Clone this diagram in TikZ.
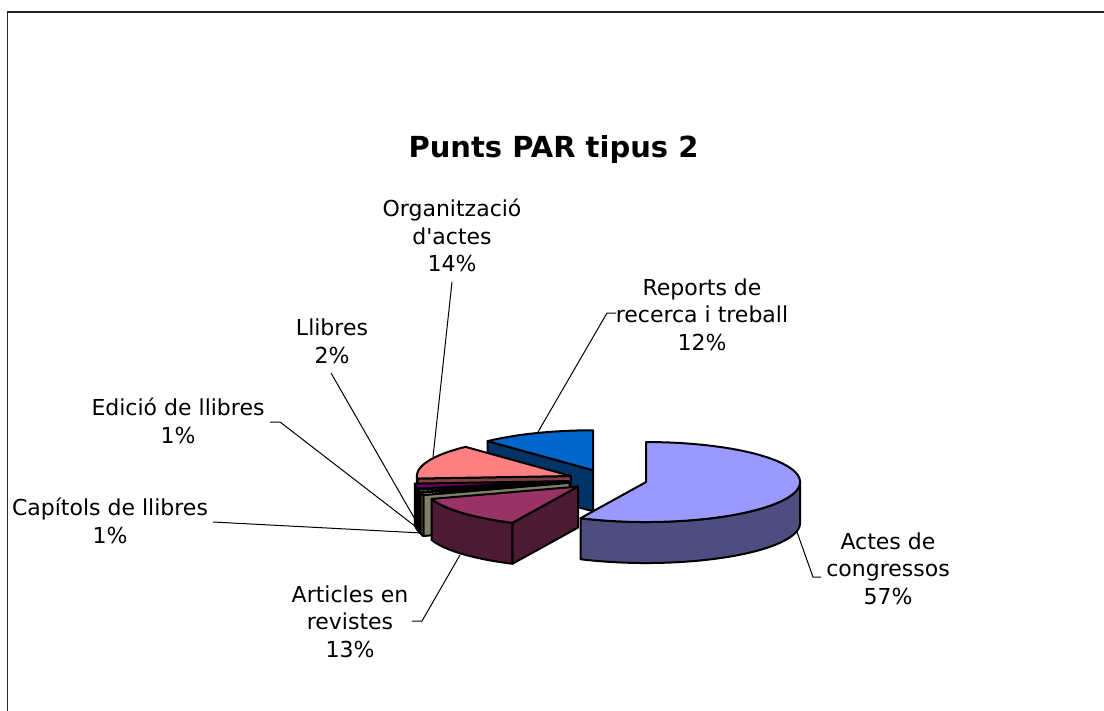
\documentclass[tikz,border=0pt]{standalone}
\usepackage{fontspec}
\setmainfont{DejaVu Sans}[Ligatures=TeXOff]
\def\pieOx{607.6}
\def\pieOy{479.8}
\def\pieRa{154}
\def\pieRb{40}
\def\pieDx{0.256}
\def\pieH{41}
\definecolor{actT}{HTML}{9999FF}\definecolor{actS}{HTML}{4D4D80}
\definecolor{artT}{HTML}{993366}\definecolor{artS}{HTML}{4D1A33}
\definecolor{capT}{HTML}{FFFFCC}\definecolor{capS}{HTML}{808066}
\definecolor{ediT}{HTML}{CCFFFF}\definecolor{ediS}{HTML}{668080}
\definecolor{llbT}{HTML}{660066}\definecolor{llbS}{HTML}{330033}
\definecolor{orgT}{HTML}{FF8080}\definecolor{orgS}{HTML}{804040}
\definecolor{repT}{HTML}{0066CC}\definecolor{repS}{HTML}{003366}
% #1 start angle, #2 end angle (clockwise from back), #3 top colour, #4 side colour, #5 draw cut face
\newcommand{\pieslice}[5]{%
  \pgfmathsetmacro{\pieM}{(#1+#2)/2}%
  \pgfmathsetmacro{\pieX}{\pieOx+\pieDx*\pieRa*sin(\pieM)}%
  \pgfmathsetmacro{\pieY}{\pieOy-\pieDx*\pieRb*cos(\pieM)}%
  \pgfmathsetmacro{\pieA}{max(#1,90)}%
  \pgfmathsetmacro{\pieB}{min(#2,270)}%
  \ifnum#5=1
    \filldraw[pie,fill=#4] (\pieX,\pieY) -- ({\pieX+\pieRa*sin(#1)},{\pieY-\pieRb*cos(#1)})
      -- ({\pieX+\pieRa*sin(#1)},{\pieY+\pieH-\pieRb*cos(#1)}) -- ({\pieX},{\pieY+\pieH}) -- cycle;
  \fi
  \ifdim\pieA pt<\pieB pt
    \filldraw[pie,fill=#4] plot[domain=\pieA:\pieB,samples=80,variable=\t] ({\pieX+\pieRa*sin(\t)},{\pieY-\pieRb*cos(\t)})
      -- plot[domain=\pieB:\pieA,samples=80,variable=\t] ({\pieX+\pieRa*sin(\t)},{\pieY+\pieH-\pieRb*cos(\t)}) -- cycle;
  \fi
  \filldraw[pie,fill=#3] (\pieX,\pieY) -- plot[domain=#1:#2,samples=80,variable=\t] ({\pieX+\pieRa*sin(\t)},{\pieY-\pieRb*cos(\t)}) -- cycle;
}
\begin{document}
\begin{tikzpicture}[x=0.5bp,y=-0.5bp,
  pie/.style={draw=black,line width=1bp,line join=round},
  lbl/.style={align=center,inner sep=0pt,font=\fontsize{11bp}{13.75bp}\selectfont},
  ttl/.style={inner sep=0pt,anchor=base,font=\fontsize{14.5bp}{17bp}\selectfont\bfseries},
  leader/.style={draw=black,line width=0.5bp},
  frame/.style={draw=black!85,line width=0.8bp}]
\useasboundingbox (0,0) rectangle (1104,711);
\fill[white] (0,0) rectangle (1104,711);
\draw[frame] (7.5,711) -- (7.5,12) -- (1104,12);
\node[ttl] (title) at (553.5,157) {Punts PAR tipus 2};
% pie slices, back to front
\pieslice{316.8}{360}{repT}{repS}{1}
\pieslice{266.4}{316.8}{orgT}{orgS}{1}
\pieslice{259.2}{266.4}{llbT}{llbS}{1}
\pieslice{255.6}{259.2}{ediT}{ediS}{1}
\pieslice{252}{255.6}{capT}{capS}{1}
\pieslice{205.2}{252}{artT}{artS}{1}
\pieslice{0}{205.2}{actT}{actS}{0}
% labels
\node[lbl] (act) at (888,568.5) {Actes de\\congressos\\57\%};
\node[lbl] (art) at (350,621.5) {Articles en\\revistes\\13\%};
\node[lbl] (cap) at (110,521) {Capítols de llibres\\1\%};
\node[lbl] (edi) at (178,421) {Edició de llibres\\1\%};
\node[lbl] (llb) at (332,341.5) {Llibres\\2\%};
\node[lbl] (org) at (452,235.5) {Organització\\d'actes\\14\%};
\node[lbl] (rep) at (702,314.5) {Reports de\\recerca i treball\\12\%};
% leader end points
\coordinate (actA) at (821,577); \coordinate (actB) at (813,577); \coordinate (actP) at (797,532);
\coordinate (artA) at (412,621); \coordinate (artB) at (422,621); \coordinate (artP) at (460,555);
\coordinate (capA) at (213,522); \coordinate (capP) at (422,533);
\coordinate (ediA) at (270,422); \coordinate (ediB) at (280,422); \coordinate (ediP) at (420,530);
\coordinate (llbA) at (331,373); \coordinate (llbP) at (420,528);
\coordinate (orgA) at (452,282); \coordinate (orgP) at (433,457);
\coordinate (repA) at (616,313); \coordinate (repB) at (607,313); \coordinate (repP) at (538,432);
\draw[leader] (actA) -- (actB) -- (actP);
\draw[leader] (artA) -- (artB) -- (artP);
\draw[leader] (capA) -- (capP);
\draw[leader] (ediA) -- (ediB) -- (ediP);
\draw[leader] (llbA) -- (llbP);
\draw[leader] (orgA) -- (orgP);
\draw[leader] (repA) -- (repB) -- (repP);
\end{tikzpicture}
\end{document}
